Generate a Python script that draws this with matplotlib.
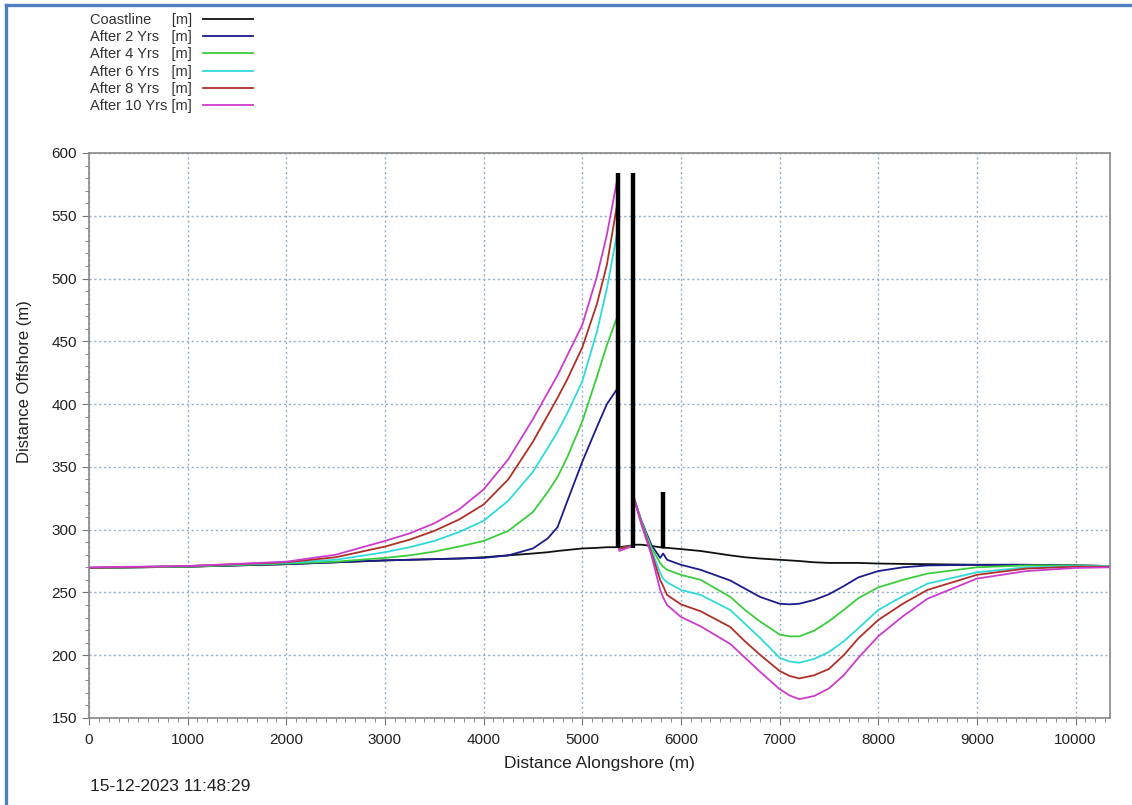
import matplotlib.pyplot as plt
from matplotlib.lines import Line2D
from matplotlib.ticker import MultipleLocator

plt.rcParams['font.family'] = ['Liberation Sans', 'DejaVu Sans']

# alongshore chainage (m)
x = [0, 1000, 2000, 2500, 3000, 3250, 3500, 3750, 4000, 4250, 4500, 4650, 4750, 4850,
     5000, 5150, 5250, 5362, 5375, 5510, 5525, 5600, 5700, 5790, 5820, 5860, 6000,
     6200, 6500, 6650, 6800, 7000, 7100, 7200, 7350, 7500, 7650, 7800, 8000, 8250,
     8500, 9000, 9500, 10000, 10350]

coastline = [269.5, 270.5, 272.5, 274, 275.5, 276, 276.5, 277, 278, 279.5, 281, 282, 283, 283.8,
             285, 285.5, 286, 286, 286, 287.5, 288, 288, 287, 286, 285.5, 285.5, 284.5,
             283, 279.5, 278, 277, 276, 275.5, 275, 274, 273.5, 273.5, 273.5, 273, 272.7,
             272.5, 272, 272, 271.5, 271]
yrs2 = [269.5, 270.5, 272.5, 274, 275.5, 276, 276.5, 277, 277.5, 279.5, 285, 293, 302, 323,
        354, 382, 400, 413, 285, 287, 325, 307, 288, 277.5, 281, 276, 272,
        268, 259.5, 253, 246.5, 241, 240.5, 241, 244, 248.5, 255, 262, 267, 270,
        271.5, 272, 272, 271.5, 271]
yrs4 = [269.5, 270.5, 273, 274.5, 277.5, 279.5, 282.5, 286.5, 291, 299, 314, 330, 342, 358,
        386, 422, 447, 471, 285, 287, 325, 306, 286, 273.5, 270.5, 268, 264,
        260, 246.5, 236, 227, 216.5, 215, 215, 219.5, 227, 236, 245.5, 254, 260,
        265, 270, 271.5, 271.5, 271]
yrs6 = [269.5, 271, 273.5, 276, 282, 286, 291, 298, 307, 323, 346, 365, 378, 393,
        418, 458, 492, 540, 285, 287, 325, 306, 284, 265.5, 261, 258, 252,
        248, 236, 225, 214, 198, 195, 194, 197, 202.5, 211, 221.5, 236, 247,
        257, 266, 270, 271, 271]
yrs8 = [269.5, 271, 274, 278, 286.5, 292, 299, 308, 320, 340, 370, 391, 405, 420,
        445, 480, 511, 563, 285, 287, 325, 305, 282, 260, 255, 248, 240.5,
        235, 222.5, 211, 200.5, 187.5, 183.5, 181.5, 184, 189, 200, 213.5, 228, 241,
        252, 264, 269, 270.5, 270.5]
yrs10 = [270, 271, 274.5, 280, 291, 297, 305, 316, 332, 356, 388, 409, 423, 439,
         463, 502, 535, 582, 283, 287, 325, 304, 280, 252, 246, 240, 230.5,
         223, 209, 198, 187, 173, 168, 165, 167.5, 173.5, 184, 198, 215, 231,
         245, 261, 267, 269.5, 270]

series = [coastline, yrs2, yrs4, yrs6, yrs8, yrs10]
labels = ['Coastline     [m]', 'After 2 Yrs   [m]', 'After 4 Yrs   [m]',
          'After 6 Yrs   [m]', 'After 8 Yrs   [m]', 'After 10 Yrs [m]']
colors = ['#111111', '#1c1c8a', '#3ccc3c', '#30dada', '#b03028', '#cc3ccc']

# structures: position, root and tip
groyne_x = [5362, 5514, 5820]
groyne_root = [285, 285, 285]
groyne_tip = [584, 584, 330]

fig = plt.figure(figsize=(11.32, 8.05), dpi=100)
ax = fig.add_axes([0.0786, 0.1081, 0.9020, 0.7019])

for y, lab, c in zip(series, labels, colors):
    ax.plot(x, y, color=c, lw=1.3, label=lab)

ax.vlines(groyne_x, groyne_root, groyne_tip, colors='black', lw=3.2, zorder=5)

ax.set_xlim(0, 10350)
ax.set_ylim(150, 600)
ax.xaxis.set_major_locator(MultipleLocator(1000))
ax.xaxis.set_minor_locator(MultipleLocator(100))
ax.yaxis.set_major_locator(MultipleLocator(50))
ax.yaxis.set_minor_locator(MultipleLocator(10))
ax.tick_params(which='major', length=5, color='#777777', labelsize=11, labelcolor='#222222')
ax.tick_params(axis='x', which='major', pad=6)
ax.tick_params(which='minor', length=3, color='#777777')
for s in ax.spines.values():
    s.set_color('#888888')
    s.set_linewidth(1.2)
ax.grid(True, which='major', ls=(0, (1.5, 2)), color='#93aec6', lw=1.0)

ax.set_xlabel('Distance Alongshore (m)', fontsize=12.5, color='#222222', labelpad=6)
ax.set_ylabel('Distance Offshore (m)', fontsize=12, color='#222222')
ax.yaxis.set_label_coords(-0.056, 0.595)

leg = fig.legend(loc='upper left', bbox_to_anchor=(0.074, 0.991), frameon=False,
                 markerfirst=False, fontsize=10.5, handlelength=3.4, handletextpad=0.8,
                 labelspacing=0.22, borderaxespad=0)
for t in leg.get_texts():
    t.set_color('#333333')

fig.text(0.0795, 0.0224, '15-12-2023 11:48:29', fontsize=12.5, color='#222222', va='center')

# blue page frame along top and left edge
fig.add_artist(Line2D([0.0053, 0.0053], [0, 0.9935], transform=fig.transFigure,
                      color='#4f7fc0', lw=2.4))
fig.add_artist(Line2D([0.0053, 1.0], [0.9935, 0.9935], transform=fig.transFigure,
                      color='#4f7fc0', lw=2.4))

fig.savefig('out.png', dpi=100)
